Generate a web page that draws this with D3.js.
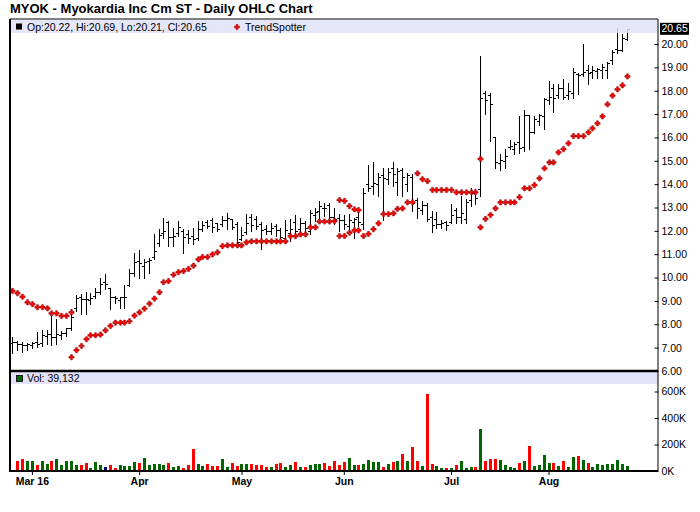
<!DOCTYPE html>
<html>
<head>
<meta charset="utf-8">
<script src="https://cdn.jsdelivr.net/npm/d3@7"></script>
<style>
  body { margin: 0; background: #fff; }
  svg { display: block; font-family: "Liberation Sans", Arial, sans-serif; }
</style>
</head>
<body>
<svg id="chart" width="700" height="512"></svg>
<script>
// Chart text
const title = "MYOK - Myokardia Inc Cm ST - Daily OHLC Chart";

// Trading calendar: Feb 24 .. Aug 23, 2016 (weekdays minus market holidays)
const holidays = ["2016-03-25", "2016-05-30", "2016-07-04"];
const monthLabels = ["Mar 16", "Apr", "May", "Jun", "Jul", "Aug"];
const priceTicks = [6, 7, 8, 9, 10, 11, 12, 13, 14, 15, 16, 17, 18, 19, 20];
const volumeTicks = [0, 200000, 400000, 600000];

// Daily OHLC
const opens = [
  7.20, 7.25, 7.15, 7.10, 7.12, 7.25, 7.20, 7.50, 7.60, 7.45,
  7.55, 7.62, 7.85, 8.70, 9.15, 9.10, 9.05, 9.20, 9.40, 9.80,
  9.55, 9.15, 9.05, 9.15, 9.70, 10.20, 10.70, 10.50, 10.70, 10.90,
  11.50, 11.90, 12.40, 11.75, 11.90, 12.00, 11.85, 11.80, 11.70, 12.10,
  12.40, 12.45, 12.35, 12.30, 12.45, 12.50, 12.30, 11.65, 11.95, 12.60,
  12.50, 12.30, 12.10, 12.00, 12.20, 12.05, 11.70, 11.90, 12.40, 12.10,
  12.35, 12.00, 12.70, 12.85, 13.00, 13.10, 12.60, 12.55, 12.45, 12.20,
  12.40, 12.60, 12.30, 14.00, 13.90, 14.00, 14.40, 14.20, 14.70, 14.10,
  14.60, 14.00, 14.30, 13.30, 12.90, 13.10, 12.60, 12.50, 12.30, 12.40,
  12.40, 12.90, 12.60, 12.50, 13.30, 13.60, 13.80, 17.90, 17.80, 16.00,
  14.90, 15.00, 15.60, 15.50, 15.80, 15.60, 16.95, 16.25, 16.70, 16.90,
  17.60, 18.10, 17.80, 18.10, 17.80, 17.90, 18.70, 18.70, 18.90, 18.80,
  18.85, 18.90, 18.90, 19.30, 19.80, 19.75, 20.22
];
const highs = [
  7.50, 7.33, 7.30, 7.26, 7.30, 7.71, 7.80, 7.80, 8.47, 8.26,
  7.76, 7.90, 8.68, 9.30, 9.33, 9.43, 9.40, 9.58, 10.01, 10.21,
  9.61, 9.25, 9.23, 9.73, 10.42, 11.08, 11.22, 10.83, 10.90, 11.89,
  12.11, 12.61, 12.47, 12.18, 12.47, 12.11, 12.07, 12.15, 12.47, 12.47,
  12.51, 12.58, 12.40, 12.68, 12.81, 12.54, 12.42, 12.21, 12.75, 12.75,
  12.68, 12.44, 12.30, 12.37, 12.32, 12.18, 12.50, 12.54, 12.71, 12.61,
  12.47, 12.92, 13.01, 13.32, 13.25, 13.25, 13.04, 12.75, 12.72, 12.75,
  12.58, 12.96, 13.89, 14.86, 15.00, 14.53, 14.72, 14.72, 14.99, 14.75,
  14.72, 14.53, 14.46, 13.46, 13.32, 13.25, 12.89, 12.85, 12.51, 12.46,
  13.18, 13.04, 13.54, 13.39, 13.89, 13.82, 19.53, 18.03, 17.96, 16.03,
  15.32, 15.53, 15.93, 15.86, 16.96, 17.20, 16.99, 16.96, 17.03, 17.72,
  18.46, 18.34, 18.34, 18.53, 18.39, 19.00, 18.79, 20.03, 19.14, 19.10,
  19.03, 19.17, 19.27, 19.77, 20.74, 20.48, 20.69
];
const lows = [
  6.83, 6.93, 6.87, 6.94, 7.04, 7.09, 7.11, 7.19, 7.14, 7.19,
  7.40, 7.54, 7.79, 8.61, 8.47, 8.47, 8.90, 9.18, 9.33, 9.54,
  8.68, 8.97, 8.76, 8.76, 9.68, 10.11, 10.04, 10.04, 10.25, 10.83,
  11.40, 11.75, 11.40, 11.40, 11.82, 11.11, 11.54, 11.50, 11.65, 12.04,
  12.18, 12.01, 12.05, 12.25, 12.11, 12.11, 11.47, 11.64, 11.90, 12.04,
  12.11, 11.25, 11.90, 11.92, 11.82, 11.61, 11.61, 11.61, 11.90, 11.97,
  12.04, 11.90, 12.47, 12.54, 12.68, 12.54, 12.32, 12.04, 12.11, 12.11,
  11.75, 12.25, 12.11, 13.75, 13.61, 13.54, 12.49, 14.03, 13.96, 13.58,
  13.54, 13.75, 12.89, 12.61, 12.75, 12.46, 12.01, 12.18, 12.18, 12.07,
  12.39, 12.39, 12.39, 12.39, 13.11, 13.18, 13.54, 17.03, 15.89, 14.72,
  14.63, 14.75, 15.53, 15.35, 15.39, 15.46, 15.53, 16.25, 16.57, 16.39,
  17.46, 17.15, 17.72, 17.67, 17.67, 17.75, 17.89, 18.67, 18.32, 18.60,
  18.57, 18.60, 18.57, 19.17, 19.67, 19.74, 20.21
];
const closes = [
  7.26, 7.16, 7.10, 7.16, 7.20, 7.15, 7.54, 7.58, 7.47, 7.59,
  7.61, 7.83, 8.33, 9.11, 9.10, 9.08, 9.12, 9.37, 9.72, 9.72,
  9.18, 9.11, 9.16, 9.18, 10.18, 10.68, 10.61, 10.68, 10.75, 11.15,
  11.82, 12.00, 11.75, 11.80, 12.15, 11.75, 11.70, 11.65, 12.07, 12.25,
  12.22, 12.15, 12.10, 12.47, 12.54, 12.18, 11.54, 11.82, 12.32, 12.25,
  12.20, 12.04, 12.00, 12.11, 12.04, 11.72, 12.04, 12.10, 12.00, 12.32,
  12.11, 12.75, 12.82, 13.06, 12.97, 12.61, 12.50, 12.45, 12.29, 12.46,
  12.50, 12.40, 13.61, 13.82, 14.03, 14.32, 14.25, 14.53, 14.45, 14.55,
  14.30, 14.40, 13.18, 12.96, 13.11, 12.50, 12.25, 12.30, 12.35, 12.25,
  12.68, 12.60, 12.75, 13.25, 13.61, 13.39, 17.70, 17.60, 17.45, 14.96,
  15.05, 15.20, 15.63, 15.72, 15.53, 16.96, 16.25, 16.80, 16.96, 17.65,
  17.75, 17.70, 18.10, 17.72, 18.00, 18.82, 18.67, 18.82, 18.75, 18.89,
  18.92, 19.03, 19.17, 19.67, 19.74, 20.24, 20.65
];
const volumes = [
  null, 73000, 93000, 73000, 78000, 48000, 78000, 55000, 78000, 93000,
  48000, 78000, 78000, 48000, 48000, 63000, 25000, 70000, 48000, 33000,
  48000, 25000, 48000, 35000, 40000, 70000, 63000, 100000, 48000, 55000,
  55000, 48000, 63000, 33000, 40000, 25000, 48000, 168000, 55000, 40000,
  55000, 35000, 40000, 93000, 33000, 63000, 40000, 55000, 55000, 55000,
  48000, 48000, 33000, 33000, 55000, 63000, 33000, 48000, 70000, 33000,
  33000, 48000, 55000, 55000, 63000, 40000, 78000, 48000, 70000, 100000,
  48000, 48000, 55000, 85000, 70000, 70000, 33000, 55000, 70000, 78000,
  130000, 78000, 183000, 78000, 40000, 581000, 55000, 40000, 25000, 25000,
  25000, 48000, 78000, 25000, 33000, 33000, 318000, 78000, 93000, 93000,
  85000, 48000, 33000, 25000, 63000, 78000, 190000, 40000, 48000, 123000,
  63000, 63000, 40000, 78000, 33000, 108000, 115000, 85000, 63000, 33000,
  55000, 48000, 55000, 55000, 85000, 55000, 39132
];

// TrendSpotter dots: above price (bearish) and below price (bullish)
const trendAbove = [
  9.43, 9.33, 9.18, 8.94, 8.86, 8.73, 8.73, 8.68, 8.47, 8.47,
  8.36, 8.36, 8.51, null, null, null, null, null, null, null,
  null, null, null, null, null, null, null, null, null, null,
  null, null, null, null, null, null, null, null, null, null,
  null, null, null, null, null, null, null, null, null, null,
  null, null, null, null, null, null, null, null, null, null,
  null, null, null, null, null, null, null, 13.32, 13.28, 13.06,
  12.92, 12.89, null, null, null, null, null, null, null, null,
  null, null, null, 14.46, 14.21, 14.13, 13.75, 13.75, 13.75, 13.75,
  13.75, 13.65, 13.65, 13.65, 13.65, 13.65, 15.08, null, null, null,
  null, null, null, null, null, null, null, null, null, null,
  null, null, null, null, null, null, null, null, null, null,
  null, null, null, null, null, null, null
];
const trendBelow = [
  null, null, null, null, null, null, null, null, null, null,
  null, null, 6.59, 6.89, 7.07, 7.36, 7.53, 7.53, 7.56, 7.74,
  7.93, 8.07, 8.07, 8.07, 8.13, 8.37, 8.51, 8.67, 8.88, 9.10,
  9.37, 9.80, 9.85, 10.12, 10.23, 10.28, 10.37, 10.51, 10.78, 10.88,
  10.88, 10.99, 11.08, 11.35, 11.38, 11.38, 11.38, 11.38, 11.51, 11.55,
  11.55, 11.55, 11.55, 11.55, 11.55, 11.55, 11.55, 11.77, 11.77, 11.85,
  11.85, 12.15, 12.15, 12.40, 12.40, 12.40, 12.42, 11.78, 11.78, 11.92,
  12.02, 12.02, 11.78, 11.87, 12.07, 12.32, 12.72, 12.72, 12.75, 12.94,
  12.96, 13.22, 13.22, null, null, null, null, null, null, null,
  null, null, null, null, null, null, 12.15, 12.51, 12.68, 12.96,
  13.22, 13.22, 13.22, 13.22, 13.44, 13.82, 13.82, 13.96, 14.25, 14.68,
  14.93, 14.93, 15.36, 15.50, 15.75, 16.06, 16.06, 16.06, 16.22, 16.39,
  16.60, 16.90, 17.42, 17.79, 18.06, 18.23, 18.61
];

// Build the trading days list
const fmtKey = d3.timeFormat("%Y-%m-%d");
const days = d3.timeDay.range(new Date(2016, 1, 24), new Date(2016, 7, 24))
  .filter(d => d.getDay() !== 0 && d.getDay() !== 6 && !holidays.includes(fmtKey(d)));

const data = days.map((d, i) => ({
  key: fmtKey(d), date: d,
  open: opens[i], high: highs[i], low: lows[i], close: closes[i],
  volume: volumes[i], prev: i > 0 ? closes[i - 1] : closes[i]
}));

// First trading day of each month from March
const monthStarts = [];
data.forEach((d, i) => {
  if (i > 0 && d.date.getMonth() !== data[i - 1].date.getMonth()) monthStarts.push(d.key);
});

// Layout
const frame = { left: 10, right: 658, top: 19, sep: 371, bottom: 471 };

const svg = d3.select("#chart");

const x = d3.scalePoint()
    .domain(data.map(d => d.key))
    .range([12.4, 626.5]);

const y = d3.scaleLinear()
    .domain([6, 20])
    .range([371, 44]);

const yVol = d3.scaleLinear()
    .domain([0, 600000])
    .range([471, 391.5]);

const px = k => Math.round(x(k)) + 0.5;
const py = v => Math.round(y(v)) + 0.5;

// Title
svg.append("text")
    .attr("x", 10)
    .attr("y", 13)
    .style("font-size", "13px")
    .style("font-weight", "bold")
    .text(title);

// OHLC bars
const ohlc = svg.append("g")
    .attr("stroke", "#000")
    .attr("stroke-width", 1)
    .attr("shape-rendering", "crispEdges");

ohlc.selectAll(".hl")
    .data(data)
  .join("line")
    .attr("x1", d => px(d.key)).attr("x2", d => px(d.key))
    .attr("y1", d => py(d.high)).attr("y2", d => py(d.low) + 1);

ohlc.selectAll(".op")
    .data(data)
  .join("line")
    .attr("x1", d => px(d.key) - 2.5).attr("x2", d => px(d.key))
    .attr("y1", d => py(d.open)).attr("y2", d => py(d.open));

ohlc.selectAll(".cl")
    .data(data)
  .join("line")
    .attr("x1", d => px(d.key)).attr("x2", d => px(d.key) + 2.5)
    .attr("y1", d => py(d.close)).attr("y2", d => py(d.close));

// TrendSpotter dots
const cross = d3.symbol().type(d3.symbolCross).size(15);
const dots = [];
data.forEach((d, i) => {
  if (trendAbove[i] != null) dots.push({ key: d.key, v: trendAbove[i] });
  if (trendBelow[i] != null) dots.push({ key: d.key, v: trendBelow[i] });
});
svg.append("g").selectAll("path")
    .data(dots)
  .join("path")
    .attr("transform", d => `translate(${px(d.key)},${y(d.v)})`)
    .attr("d", cross)
    .attr("fill", "#ff0000")
    .attr("stroke", "#990000")
    .attr("stroke-width", 0.6);

// Volume bars
const volColor = d => d.close > d.prev ? "#006600" : d.close < d.prev ? "#ff0000" : "#000080";
svg.append("g")
    .attr("shape-rendering", "crispEdges")
  .selectAll("rect")
    .data(data.filter(d => d.volume != null))
  .join("rect")
    .attr("x", d => Math.round(x(d.key)) - 1)
    .attr("y", d => yVol(d.volume))
    .attr("width", 3)
    .attr("height", d => yVol(0) - yVol(d.volume))
    .attr("fill", volColor);

// Header bands
const band = svg.append("g");
band.append("rect")
    .attr("x", frame.left).attr("y", frame.top + 1)
    .attr("width", frame.right - frame.left).attr("height", 13)
    .attr("fill", "#e2e2f8").attr("fill-opacity", 0.85);
band.append("rect")
    .attr("x", frame.left).attr("y", frame.sep + 1)
    .attr("width", frame.right - frame.left).attr("height", 12)
    .attr("fill", "#e2e2f8");

const last = data[data.length - 1];
const f2 = d3.format(".2f");

svg.append("rect")
    .attr("x", 16).attr("y", 23.5).attr("width", 6).attr("height", 6)
    .attr("fill", "#000");
svg.append("text")
    .attr("x", 27).attr("y", 30.5)
    .style("font-size", "10.5px")
    .text(`Op:${f2(last.open)}, Hi:${f2(last.high)}, Lo:${f2(last.low)}, Cl:${f2(last.close)}`);
svg.append("path")
    .attr("transform", "translate(237,27)")
    .attr("d", cross)
    .attr("fill", "#ff0000")
    .attr("stroke", "#990000")
    .attr("stroke-width", 0.6);
svg.append("text")
    .attr("x", 245).attr("y", 30.5)
    .style("font-size", "10.5px")
    .text("TrendSpotter");

svg.append("rect")
    .attr("x", 16.5).attr("y", 375.5).attr("width", 6).attr("height", 6)
    .attr("fill", "#006600").attr("stroke", "#000").attr("stroke-width", 0.8);
svg.append("text")
    .attr("x", 27).attr("y", 382)
    .style("font-size", "10.5px")
    .text(`Vol: ${d3.format(",")(last.volume)}`);

// Frame lines
svg.append("path")
    .attr("d", `M${frame.left},${frame.top}H${frame.right}V${frame.bottom}`)
    .attr("fill", "none").attr("stroke", "#000").attr("stroke-width", 1);
svg.append("path")
    .attr("d", `M${frame.left},${frame.top}V${frame.bottom}H${frame.right}`)
    .attr("fill", "none").attr("stroke", "#000").attr("stroke-width", 2);
svg.append("line")
    .attr("x1", frame.left).attr("x2", frame.right)
    .attr("y1", frame.sep).attr("y2", frame.sep)
    .attr("stroke", "#000").attr("stroke-width", 2.5);

// Price axis
const priceAxis = svg.append("g")
    .attr("transform", `translate(${frame.right + 0.5},0)`)
    .call(d3.axisRight(y).tickValues(priceTicks).tickFormat(f2)
      .tickSizeInner(-4).tickSizeOuter(0).tickPadding(3));
priceAxis.select(".domain").remove();
priceAxis.selectAll("text").style("font-size", "10.5px").style("font-family", "Liberation Sans, Arial, sans-serif");

// Last price marker
svg.append("rect")
    .attr("x", frame.right + 2).attr("y", y(last.close) - 6)
    .attr("width", 29).attr("height", 12)
    .attr("fill", "#000");
svg.append("text")
    .attr("x", frame.right + 3.5).attr("y", y(last.close))
    .attr("dy", "0.35em")
    .style("font-size", "10.5px")
    .attr("fill", "#fff")
    .text(f2(last.close));

// Volume axis
const volAxis = svg.append("g")
    .attr("transform", `translate(${frame.right + 0.5},0)`)
    .call(d3.axisRight(yVol).tickValues(volumeTicks).tickFormat(d => d / 1000 + "K")
      .tickSizeInner(-4).tickSizeOuter(0).tickPadding(3));
volAxis.select(".domain").remove();
volAxis.selectAll("text").style("font-size", "10.5px").style("font-family", "Liberation Sans, Arial, sans-serif");

// Date axis
const dateAxis = svg.append("g")
    .attr("transform", `translate(0,${frame.bottom})`)
    .call(d3.axisBottom(x).tickValues(monthStarts)
      .tickFormat((d, i) => monthLabels[i]).tickSizeInner(4).tickSizeOuter(0).tickPadding(3));
dateAxis.select(".domain").remove();
dateAxis.selectAll("text")
    .style("font-size", "10.5px")
    .style("font-weight", "bold")
    .style("font-family", "Liberation Sans, Arial, sans-serif");
</script>
</body>
</html>
